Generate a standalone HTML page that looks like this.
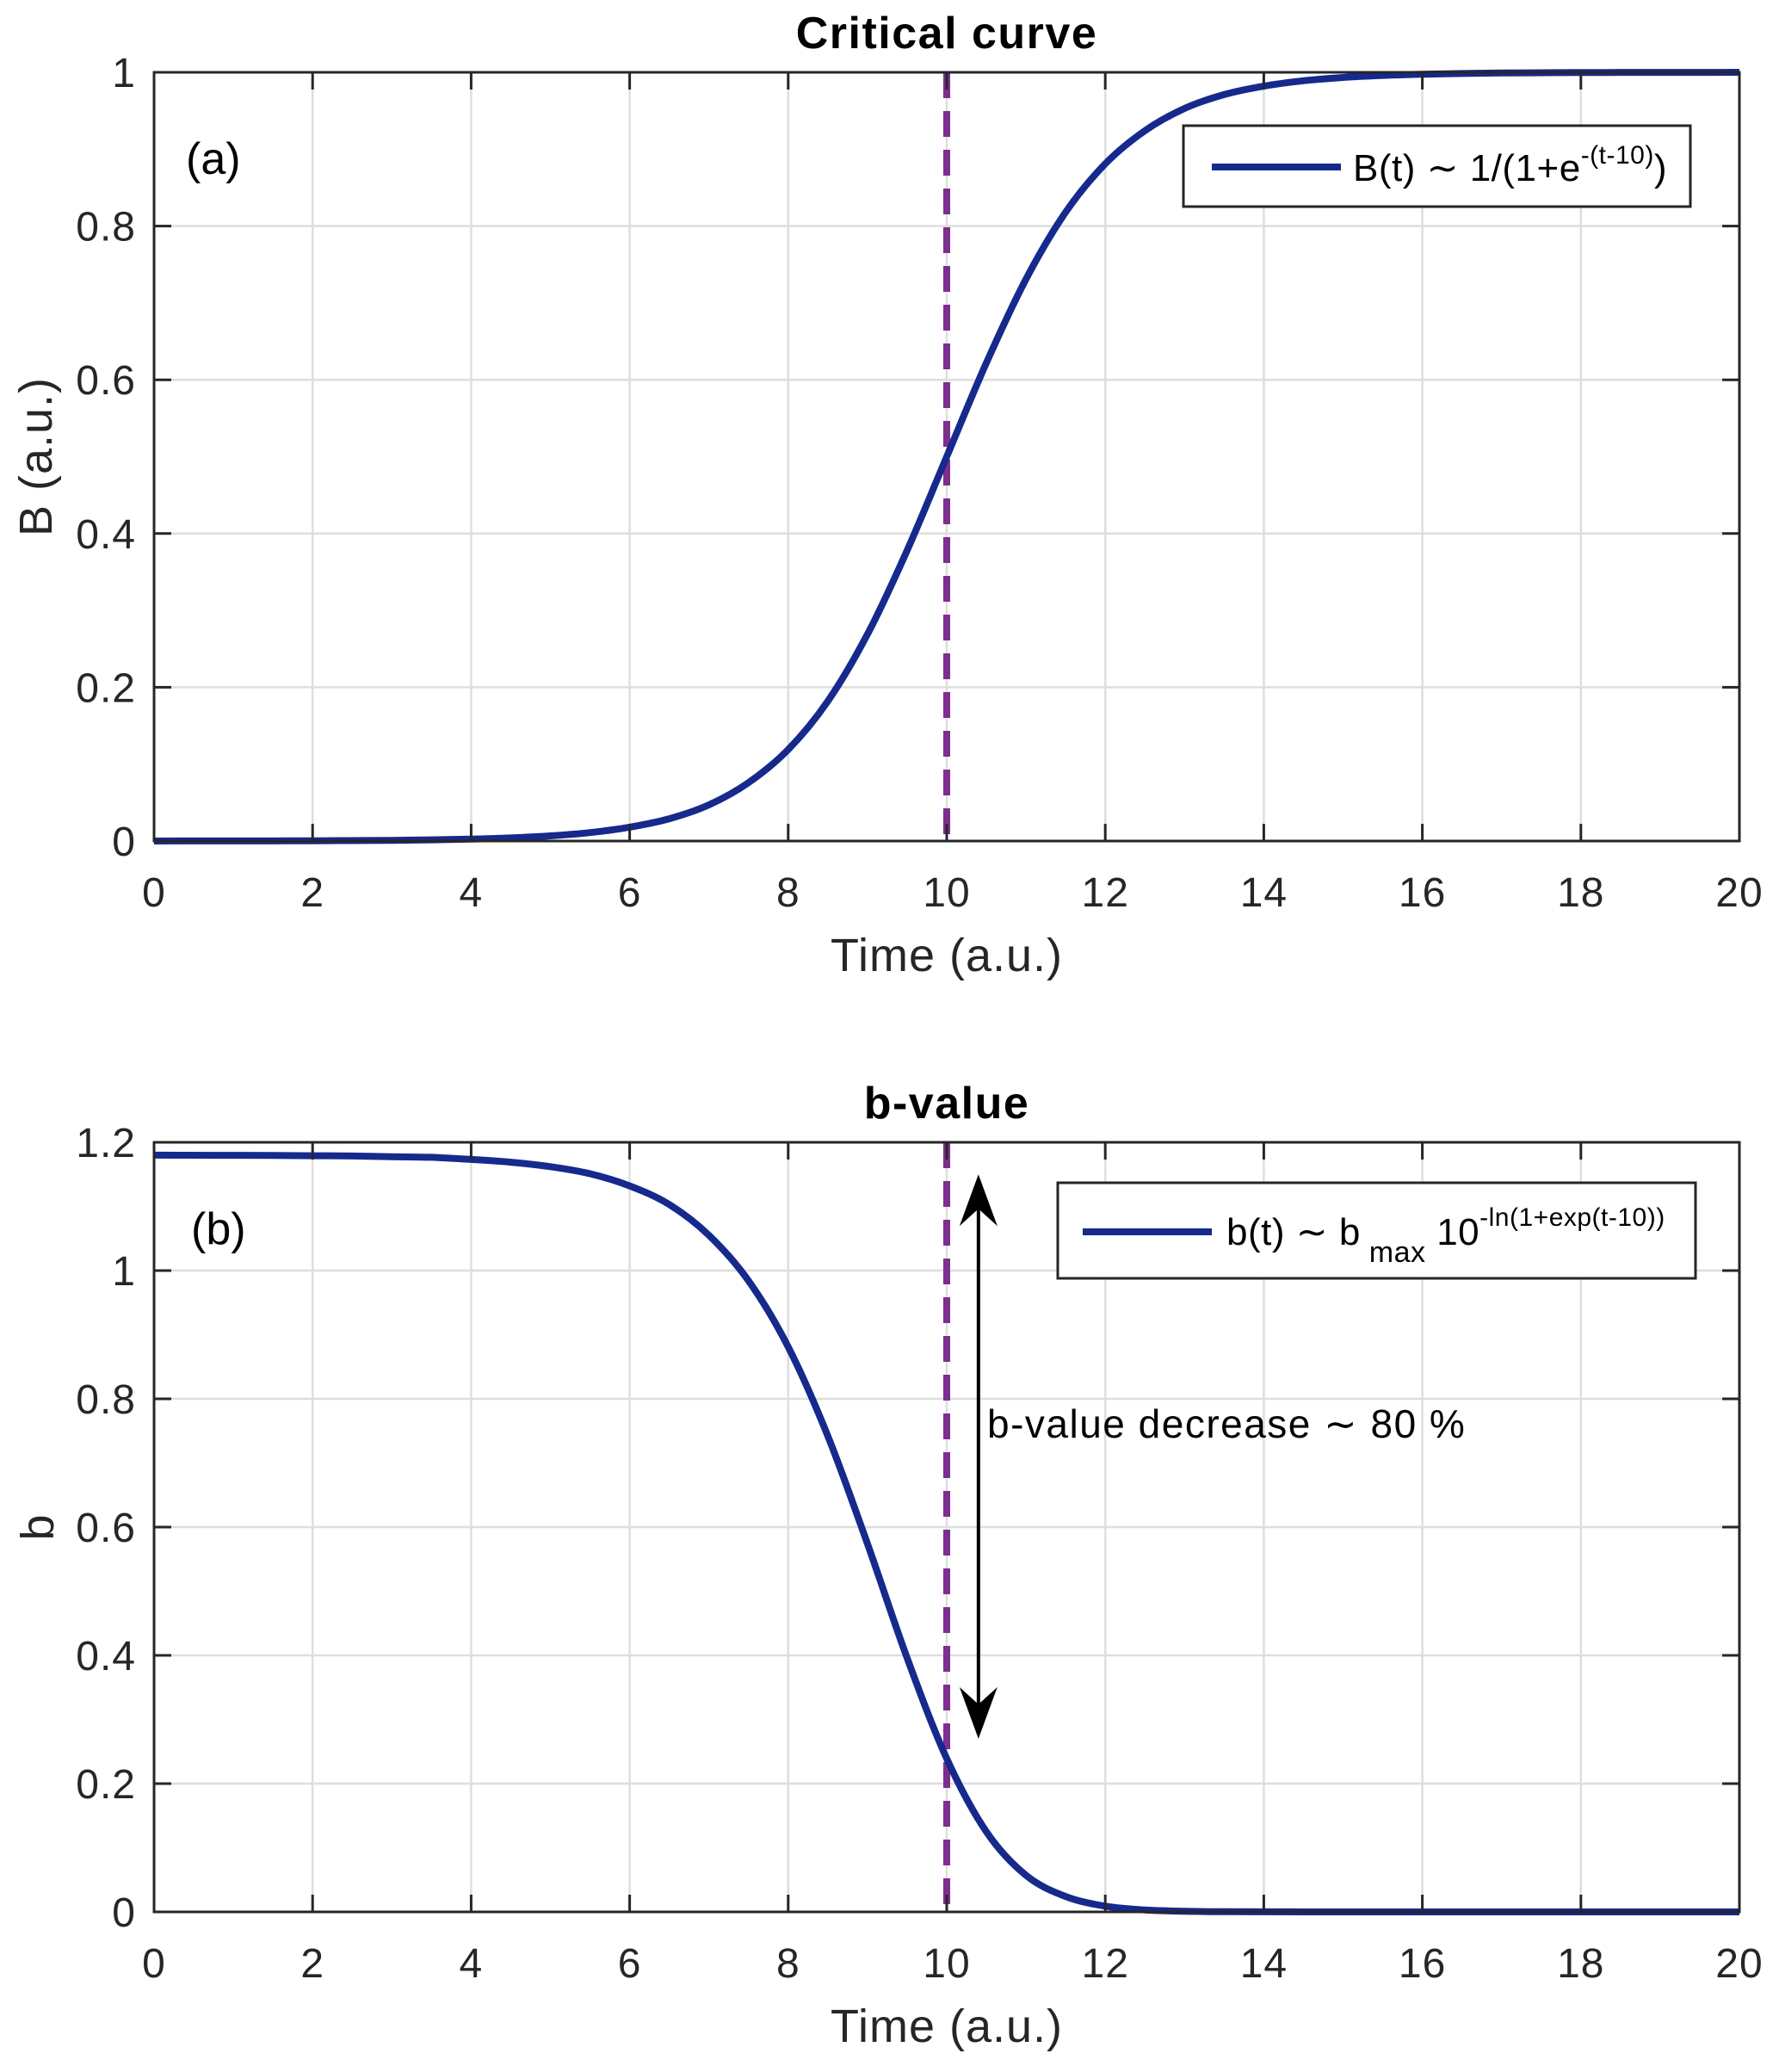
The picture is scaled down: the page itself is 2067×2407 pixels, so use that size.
<!DOCTYPE html>
<html><head><meta charset="utf-8"><style>
html,body{margin:0;padding:0;background:#fff}
svg{display:block}
text{font-family:"Liberation Sans",Arial,sans-serif}
</style></head><body>
<svg id="fig" width="2067" height="2407" viewBox="0 0 2067 2407" xmlns="http://www.w3.org/2000/svg"></svg>
<script>
const tValues=[0,0.5,1,1.5,2,2.5,3,3.5,4,4.5,5,5.5,6,6.5,7,7.5,8,8.5,9,9.5,10,10.5,11,11.5,12,12.5,13,13.5,14,14.5,15,15.5,16,16.5,17,17.5,18,18.5,19,19.5,20];
const bigBValues=[0.0000,0.0001,0.0001,0.0002,0.0003,0.0006,0.0009,0.0015,0.0025,0.0041,0.0067,0.011,0.018,0.029,0.047,0.076,0.119,0.182,0.269,0.378,0.500,0.622,0.731,0.818,0.881,0.924,0.953,0.971,0.982,0.989,0.9933,0.9959,0.9975,0.9985,0.9991,0.9994,0.9997,0.9998,0.9999,0.9999,1.000];
const smallBValues=[1.1800,1.1798,1.1797,1.1795,1.1791,1.1787,1.1775,1.1766,1.1733,1.169,1.162,1.151,1.132,1.103,1.055,0.984,0.881,0.742,0.574,0.396,0.239,0.125,0.057,0.024,0.009,0.003,0.001,0.0003,0.0001,0.000,0.000,0.000,0.000,0.000,0.000,0.000,0.000,0.000,0.000,0.000,0.000];
const xTicks=[0,2,4,6,8,10,12,14,16,18,20];
const xTickLabels=["0","2","4","6","8","10","12","14","16","18","20"];
const yTicksTop=[0,0.2,0.4,0.6,0.8,1];
const yTickLabelsTop=["0","0.2","0.4","0.6","0.8","1"];
const yTicksBottom=[0,0.2,0.4,0.6,0.8,1,1.2];
const yTickLabelsBottom=["0","0.2","0.4","0.6","0.8","1","1.2"];
const criticalTime=[10];
const arrowRange=[1.15,0.27];

const NS="http://www.w3.org/2000/svg";
const svg=document.getElementById('fig');
function mk(tag,attrs,parent,txt){const e=document.createElementNS(NS,tag);for(const k in attrs)e.setAttribute(k,attrs[k]);if(txt!==undefined)e.textContent=txt;(parent||svg).appendChild(e);return e;}

function panel(cfg){
  const g=mk('g',{});
  
  
  const L=179,R=2021,T=cfg.top,B=cfg.bottom;
  const xs=v=>L+(v-0)/(20-0)*(R-L);
  const ys=v=>B-(v-cfg.ymin)/(cfg.ymax-cfg.ymin)*(B-T);
  xTicks.forEach(v=>{const l=mk('line',{x1:xs(v),x2:xs(v),y1:T,y2:B,stroke:'#dedede','stroke-width':2.5},g);
    });
  cfg.yTicks.forEach(v=>{const l=mk('line',{x1:L,x2:R,y1:ys(v),y2:ys(v),stroke:'#dedede','stroke-width':2.5},g);
    });
  const d=mk('line',{x1:xs(criticalTime[0]),x2:xs(criticalTime[0]),y1:T,y2:B,stroke:'#7E2F8E','stroke-width':8,'stroke-dasharray':'30 15'},g);
  
  const pts=tValues.map((t,i)=>[xs(t),ys(cfg.values[i])]);
  let p='M'+pts[0][0]+','+pts[0][1];
  for(let i=0;i<pts.length-1;i++){
    const p0=pts[Math.max(0,i-1)],p1=pts[i],p2=pts[i+1],p3=pts[Math.min(pts.length-1,i+2)];
    const c1=[p1[0]+(p2[0]-p0[0])/6,p1[1]+(p2[1]-p0[1])/6];
    const c2=[p2[0]-(p3[0]-p1[0])/6,p2[1]-(p3[1]-p1[1])/6];
    p+=' C'+c1[0]+','+c1[1]+' '+c2[0]+','+c2[1]+' '+p2[0]+','+p2[1];
  }
  const c=mk('path',{d:p,fill:'none',stroke:'#16298C','stroke-width':8,'stroke-linejoin':'round'},g);
  
  const bx=mk('rect',{x:L,y:T,width:R-L,height:B-T,fill:'none',stroke:'#262626','stroke-width':3},g);
  
  xTicks.forEach((v,i)=>{
    mk('line',{x1:xs(v),x2:xs(v),y1:B,y2:B-20,stroke:'#262626','stroke-width':3},g);
    mk('line',{x1:xs(v),x2:xs(v),y1:T,y2:T+20,stroke:'#262626','stroke-width':3},g);
    const t=mk('text',{x:xs(v),y:B+76,'text-anchor':'middle','font-size':48,'letter-spacing':1,fill:'#262626'},g,xTickLabels[i]);
    
  });
  cfg.yTicks.forEach((v,i)=>{
    mk('line',{x1:L,x2:L+20,y1:ys(v),y2:ys(v),stroke:'#262626','stroke-width':3},g);
    mk('line',{x1:R,x2:R-20,y1:ys(v),y2:ys(v),stroke:'#262626','stroke-width':3},g);
    const t=mk('text',{x:158,y:ys(v)+17,'text-anchor':'end','font-size':48,'letter-spacing':1,fill:'#262626'},g,cfg.yLabels[i]);
    
  });
  const xl=mk('text',{x:1100,y:B+151,'text-anchor':'middle','font-size':54,'letter-spacing':1,fill:'#262626'},g,'Time (a.u.)');
  
  const yl=mk('text',{x:0,y:0,'text-anchor':'middle','font-size':54,'letter-spacing':1,fill:'#262626',transform:'translate('+cfg.ylx+','+((T+B)/2)+') rotate(-90)'},g,cfg.ylabel);
  
  const ti=mk('text',{x:1100,y:T-28,'text-anchor':'middle','font-size':52,'font-weight':'bold','letter-spacing':1.5,fill:'#000'},g,cfg.title);
  
  const pl=mk('text',{x:cfg.plx,y:T+118,'font-size':52,fill:'#000'},g,cfg.panelLabel);
  
  return {g,xs,ys};
}

const topPanel=panel({name:'critical-curve-panel',top:84,bottom:977,ymin:0,ymax:1,yTicks:yTicksTop,yLabels:yTickLabelsTop,values:bigBValues,curveName:'critical-curve-line',ylabel:'B (a.u.)',ylx:60,title:'Critical  curve',panelLabel:'(a)',plx:216});
const bottomPanel=panel({name:'b-value-panel',top:1327,bottom:2221,ymin:0,ymax:1.2,yTicks:yTicksBottom,yLabels:yTickLabelsBottom,values:smallBValues,curveName:'b-value-line',ylabel:'b',ylx:62,title:'b-value',panelLabel:'(b)',plx:222});

let lg=mk('g',{},topPanel.g);

mk('rect',{x:1375,y:146,width:589,height:94,fill:'#fff',stroke:'#262626','stroke-width':3},lg);
mk('line',{x1:1408,x2:1558,y1:194,y2:194,stroke:'#16298C','stroke-width':8},lg);
let lt=mk('text',{x:1572,y:210,'font-size':44,'letter-spacing':0.5,fill:'#000'},lg);


mk('tspan',{},lt,'B(t) ∼ 1/(1+e');
mk('tspan',{dy:-20,'font-size':30},lt,'-(t-10)');
mk('tspan',{dy:20},lt,')');

lg=mk('g',{},bottomPanel.g);

mk('rect',{x:1229,y:1374,width:741,height:111,fill:'#fff',stroke:'#262626','stroke-width':3},lg);
mk('line',{x1:1258,x2:1408,y1:1431,y2:1431,stroke:'#16298C','stroke-width':8},lg);
lt=mk('text',{x:1425,y:1446,'font-size':44,'letter-spacing':0.5,fill:'#000'},lg);


mk('tspan',{},lt,'b(t) ∼ b');
mk('tspan',{dy:20,'font-size':34},lt,' max');
mk('tspan',{dy:-20},lt,' 10');
mk('tspan',{dy:-22,'font-size':30},lt,'-ln(1+exp(t-10))');

const ax=bottomPanel.xs(10.4);
const ag=mk('g',{},bottomPanel.g);

const y1=bottomPanel.ys(arrowRange[0]),y2=bottomPanel.ys(arrowRange[1]);
mk('line',{x1:ax,x2:ax,y1:y1+10,y2:y2-10,stroke:'#000','stroke-width':4},ag);
mk('path',{d:`M${ax},${y1} L${ax-22},${y1+60} L${ax},${y1+40} L${ax+22},${y1+60} Z`,fill:'#000'},ag);
mk('path',{d:`M${ax},${y2} L${ax-22},${y2-60} L${ax},${y2-40} L${ax+22},${y2-60} Z`,fill:'#000'},ag);
const at=mk('text',{x:1147,y:1670,'font-size':46,'letter-spacing':1.5,fill:'#000'},bottomPanel.g,'b-value decrease ∼ 80  %');

</script>
</body></html>
